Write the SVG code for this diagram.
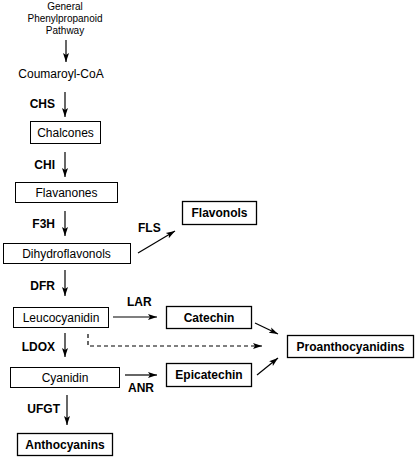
<svg xmlns="http://www.w3.org/2000/svg" width="415" height="458" viewBox="0 0 415 458">
<style>
.box{fill:#fff;stroke:#000;stroke-width:1}
.bbox{fill:#fff;stroke:#000;stroke-width:1.3}
.t{font-family:"Liberation Sans",Arial,sans-serif;font-size:12px;fill:#000}
.s{font-family:"Liberation Sans",Arial,sans-serif;font-size:10px;fill:#000}
.b{font-family:"Liberation Sans",Arial,sans-serif;font-size:12px;font-weight:bold;fill:#000}
.c{text-anchor:middle}
.e{text-anchor:end}
.ln{stroke:#000;stroke-width:1.2;fill:none}
.dash{stroke-dasharray:4,3}
</style>
<defs>
<marker id="ah" markerWidth="10" markerHeight="8" refX="9" refY="4" orient="auto" markerUnits="userSpaceOnUse">
<path d="M0,1 L9,4 L0,7 L2,4 Z" fill="#000"/>
</marker>
</defs>
<g id="connectors">
<line class="ln" x1="66" y1="40" x2="66" y2="62" marker-end="url(#ah)"/>
<line class="ln" x1="65" y1="92" x2="65" y2="117" marker-end="url(#ah)"/>
<line class="ln" x1="65" y1="152" x2="65" y2="177" marker-end="url(#ah)"/>
<line class="ln" x1="65" y1="211" x2="65" y2="236" marker-end="url(#ah)"/>
<line class="ln" x1="138" y1="253" x2="175" y2="231" marker-end="url(#ah)"/>
<line class="ln" x1="65" y1="270" x2="65" y2="296" marker-end="url(#ah)"/>
<line class="ln" x1="113" y1="317" x2="157" y2="317" marker-end="url(#ah)"/>
<line class="ln" x1="65" y1="333" x2="65" y2="357" marker-end="url(#ah)"/>
<polyline class="ln dash" points="88,334 88,346 262,346" marker-end="url(#ah)"/>
<line class="ln" x1="255" y1="323" x2="278" y2="334" marker-end="url(#ah)"/>
<line class="ln" x1="257" y1="375" x2="278" y2="358" marker-end="url(#ah)"/>
<line class="ln" x1="125" y1="375" x2="157" y2="375" marker-end="url(#ah)"/>
<line class="ln" x1="67" y1="395" x2="67" y2="425" marker-end="url(#ah)"/>
</g>
<g id="general">
<text class="s c" x="65" y="10">General</text>
<text class="s c" x="65" y="22">Phenylpropanoid</text>
<text class="s c" x="65" y="34">Pathway</text>
</g>
<g id="coumaroyl"><text class="t c" x="61" y="78">Coumaroyl-CoA</text></g>
<g id="chalcones"><rect class="box" x="30.5" y="121.5" width="70" height="22"/><text class="t c" x="65.5" y="137">Chalcones</text></g>
<g id="flavanones"><rect class="box" x="15.5" y="182.5" width="102" height="20"/><text class="t c" x="66.5" y="197">Flavanones</text></g>
<g id="dihydroflavonols"><rect class="box" x="3.5" y="243.5" width="127" height="20"/><text class="t c" x="66.5" y="258">Dihydroflavonols</text></g>
<g id="flavonols"><rect class="bbox" x="182.5" y="201.5" width="74" height="23"/><text class="b c" x="219.5" y="217">Flavonols</text></g>
<g id="leucocyanidin"><rect class="box" x="13.5" y="307.5" width="95" height="20"/><text class="t c" x="61" y="322">Leucocyanidin</text></g>
<g id="catechin"><rect class="bbox" x="166.5" y="306.5" width="85" height="22"/><text class="b c" x="209" y="322">Catechin</text></g>
<g id="proanthocyanidins"><rect class="bbox" x="287.5" y="335.5" width="126" height="22"/><text class="b c" x="350.5" y="351">Proanthocyanidins</text></g>
<g id="epicatechin"><rect class="bbox" x="166.5" y="363.5" width="85" height="23"/><text class="b c" x="209" y="379">Epicatechin</text></g>
<g id="cyanidin"><rect class="box" x="10.5" y="367.5" width="109" height="20"/><text class="t c" x="65" y="382">Cyanidin</text></g>
<g id="anthocyanins"><rect class="bbox" x="17.5" y="433.5" width="95" height="22"/><text class="b c" x="65" y="449">Anthocyanins</text></g>
<g id="labels">
<text class="b e" x="55" y="108">CHS</text>
<text class="b e" x="55" y="169">CHI</text>
<text class="b e" x="55" y="228">F3H</text>
<text class="b" x="138" y="232">FLS</text>
<text class="b e" x="55" y="290">DFR</text>
<text class="b" x="127" y="306">LAR</text>
<text class="b e" x="55" y="351">LDOX</text>
<text class="b" x="128" y="392">ANR</text>
<text class="b e" x="60" y="413">UFGT</text>
</g>
</svg>
